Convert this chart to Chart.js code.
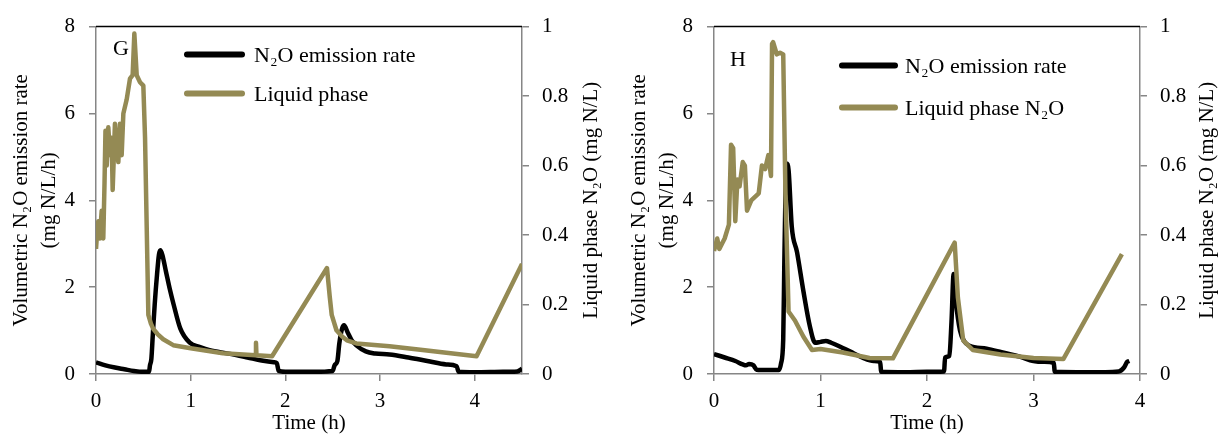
<!DOCTYPE html>
<html>
<head>
<meta charset="utf-8">
<script src="https://cdn.jsdelivr.net/npm/chart.js@4.4.1/dist/chart.umd.min.js"></script>
<style>
  body { margin: 0; background: #fff; width: 1219px; height: 434px; overflow: hidden; position: relative; }
  .panel { position: absolute; top: 0; width: 610px; height: 434px; }
  #boxG { left: 0; }
  #boxH { left: 618px; }
</style>
</head>
<body>
<div class="panel" id="boxG"><canvas id="chartG" width="610" height="434"></canvas></div>
<div class="panel" id="boxH"><canvas id="chartH" width="610" height="434"></canvas></div>
<script>
const FONT = '"Liberation Serif", "Times New Roman", serif';
const BLACK = '#000000';
const OLIVE = '#948A54';
const AXIS_GREY = '#868686';

// ---- panel G : N2O emission rate (mg N/L/h) ----
const gRateTime = [0, 0.1, 0.2, 0.3, 0.4, 0.5, 0.56, 0.57, 0.585, 0.6, 0.62, 0.645, 0.665, 0.68, 0.7, 0.74, 0.78, 0.82, 0.89, 0.99, 1.1, 1.2, 1.4, 1.6, 1.75, 1.88, 1.91, 1.93, 2.0, 2.3, 2.5, 2.52, 2.55, 2.57, 2.6, 2.62, 2.66, 2.7, 2.75, 2.85, 2.95, 3.1, 3.3, 3.5, 3.7, 3.81, 3.83, 4.0, 4.3, 4.45, 4.5];
const gRateVal  = [0.27, 0.2, 0.15, 0.11, 0.07, 0.05, 0.05, 0.2, 0.35, 0.9, 1.6, 2.3, 2.75, 2.85, 2.75, 2.35, 1.95, 1.6, 1.05, 0.72, 0.62, 0.55, 0.47, 0.38, 0.31, 0.27, 0.25, 0.07, 0.05, 0.05, 0.07, 0.2, 0.3, 0.7, 1.05, 1.12, 0.95, 0.78, 0.66, 0.52, 0.47, 0.45, 0.38, 0.3, 0.22, 0.18, 0.05, 0.04, 0.05, 0.06, 0.12];
// ---- panel G : liquid phase N2O (mg N/L) ----
const gLiqTime = [0, 0.015, 0.025, 0.04, 0.06, 0.077, 0.09, 0.1, 0.113, 0.13, 0.148, 0.165, 0.176, 0.19, 0.2, 0.22, 0.236, 0.253, 0.271, 0.289, 0.324, 0.359, 0.387, 0.405, 0.43, 0.465, 0.5, 0.518, 0.553, 0.58, 0.605, 0.65, 0.71, 0.816, 1.0, 1.34, 1.685, 1.69, 1.695, 1.86, 2.44, 2.47, 2.49, 2.54, 2.6, 2.65, 2.75, 3.1, 3.45, 4.02, 4.5];
const gLiqVal  = [0.36, 0.42, 0.44, 0.39, 0.47, 0.39, 0.55, 0.70, 0.6, 0.71, 0.63, 0.68, 0.53, 0.64, 0.72, 0.64, 0.61, 0.72, 0.63, 0.75, 0.79, 0.85, 0.86, 0.98, 0.86, 0.84, 0.83, 0.68, 0.17, 0.145, 0.13, 0.115, 0.10, 0.083, 0.074, 0.06, 0.054, 0.09, 0.054, 0.051, 0.305, 0.22, 0.17, 0.126, 0.108, 0.097, 0.088, 0.08, 0.069, 0.051, 0.317];

// ---- panel H : N2O emission rate ----
const hRateTime = [0, 0.1, 0.2, 0.27, 0.3, 0.33, 0.37, 0.4, 0.5, 0.61, 0.63, 0.65, 0.66, 0.67, 0.68, 0.7, 0.73, 0.78, 0.84, 0.9, 0.95, 1.0, 1.05, 1.1, 1.21, 1.31, 1.4, 1.5, 1.56, 1.57, 1.8, 2.0, 2.16, 2.17, 2.21, 2.23, 2.25, 2.27, 2.31, 2.35, 2.4, 2.56, 2.7, 2.87, 3.0, 3.1, 3.19, 3.2, 3.5, 3.8, 3.85, 3.88, 3.9];
const hRateVal  = [0.46, 0.38, 0.3, 0.22, 0.2, 0.23, 0.2, 0.1, 0.09, 0.09, 0.25, 0.8, 2.5, 4.0, 4.85, 4.7, 3.4, 2.8, 1.9, 1.1, 0.72, 0.74, 0.76, 0.72, 0.6, 0.48, 0.37, 0.3, 0.28, 0.05, 0.04, 0.05, 0.06, 0.38, 0.42, 1.2, 2.3, 1.7, 1.0, 0.75, 0.65, 0.58, 0.5, 0.4, 0.3, 0.28, 0.26, 0.05, 0.04, 0.06, 0.15, 0.28, 0.3];
// ---- panel H : liquid phase N2O ----
const hLiqTime = [0, 0.03, 0.05, 0.1, 0.14, 0.16, 0.18, 0.2, 0.22, 0.24, 0.27, 0.29, 0.31, 0.35, 0.42, 0.45, 0.48, 0.51, 0.535, 0.545, 0.555, 0.59, 0.62, 0.65, 0.67, 0.7, 0.76, 0.84, 0.92, 1.0, 1.21, 1.46, 1.68, 2.26, 2.29, 2.34, 2.43, 2.69, 3.0, 3.28, 3.83];
const hLiqVal  = [0.354, 0.39, 0.36, 0.39, 0.43, 0.66, 0.65, 0.44, 0.56, 0.54, 0.61, 0.6, 0.47, 0.5, 0.52, 0.6, 0.59, 0.63, 0.57, 0.95, 0.955, 0.92, 0.925, 0.92, 0.535, 0.18, 0.154, 0.107, 0.069, 0.072, 0.062, 0.046, 0.045, 0.378, 0.22, 0.097, 0.069, 0.056, 0.046, 0.043, 0.345];

const rateTicks = [0, 2, 4, 6, 8];
const liqTicks = [0, 0.2, 0.4, 0.6, 0.8, 1];
const timeTicks = [0, 1, 2, 3, 4];

const pts = (xs, ys) => xs.map((x, i) => ({ x, y: ys[i] }));
const setTicks = arr => scale => { scale.ticks = arr.map(v => ({ value: v })); };

// top frame line, right-axis title, panel letter and the legend inside the plot
const panelDecor = {
  id: 'panelDecor',
  afterDraw(chart, args, o) {
    const { ctx, chartArea: a } = chart;
    ctx.save();
    ctx.strokeStyle = BLACK;
    ctx.lineWidth = 1.5;
    ctx.beginPath();
    ctx.moveTo(a.left, a.top);
    ctx.lineTo(a.right, a.top);
    ctx.stroke();

    ctx.fillStyle = BLACK;
    ctx.font = '21px ' + FONT;
    ctx.textBaseline = 'middle';

    // right title reads bottom-to-top, like the left one
    ctx.save();
    ctx.translate(o.rightTitleX, (a.top + a.bottom) / 2);
    ctx.rotate(-Math.PI / 2);
    ctx.textAlign = 'center';
    ctx.fillText(o.rightTitle, 0, 0);
    ctx.restore();

    ctx.font = '22px ' + FONT;
    ctx.fillText(o.letter, a.left + o.letterDx, a.top + o.letterDy);

    chart.data.datasets.forEach((ds, i) => {
      const y = a.top + o.legDy + i * o.legGap;
      ctx.strokeStyle = ds.borderColor;
      ctx.lineWidth = 6;
      ctx.lineCap = 'round';
      ctx.beginPath();
      ctx.moveTo(a.left + o.legX0, y);
      ctx.lineTo(a.left + o.legX1, y);
      ctx.stroke();
      ctx.fillText(ds.label, a.left + o.legTextX, y + 2);
    });
    ctx.restore();
  }
};

function buildPanel(id, p) {
  const tickFont = { family: FONT, size: 21 };
  return new Chart(document.getElementById(id), {
    type: 'line',
    data: {
      datasets: [
        { label: p.rateLabel, data: pts(p.rateTime, p.rateVal), yAxisID: 'yRate',
          borderColor: BLACK, borderWidth: 4.5, pointRadius: 0, cubicInterpolationMode: 'monotone', order: 1 },
        { label: p.liqLabel, data: pts(p.liqTime, p.liqVal), yAxisID: 'yLiq',
          borderColor: OLIVE, borderWidth: 4.5, pointRadius: 0, tension: 0, borderJoinStyle: 'round', order: 0 }
      ]
    },
    options: {
      responsive: false,
      animation: false,
      events: [],
      layout: { padding: { top: 24, left: 0, right: 0, bottom: 0 } },
      plugins: { legend: { display: false }, tooltip: { enabled: false }, panelDecor: p.decor },
      scales: {
        x: {
          type: 'linear', position: 'bottom', min: 0, max: p.xMax,
          afterBuildTicks: setTicks(timeTicks),
          afterFit: s => { s.height = 60; },
          ticks: { color: BLACK, font: tickFont, padding: 8, maxRotation: 0 },
          grid: { drawOnChartArea: false, tickLength: 7, color: AXIS_GREY, lineWidth: 1.5 },
          border: { color: AXIS_GREY, width: 1.5 },
          title: { display: true, text: 'Time (h)', color: BLACK, font: { family: FONT, size: 21, lineHeight: 1 }, padding: 0 }
        },
        yRate: {
          type: 'linear', position: 'left', min: 0, max: 8,
          afterBuildTicks: setTicks(rateTicks),
          afterFit: s => { s.width = 96; },
          ticks: { color: BLACK, font: tickFont, padding: 14 },
          grid: { drawOnChartArea: false, tickLength: 7, color: AXIS_GREY, lineWidth: 1.5 },
          border: { color: AXIS_GREY, width: 1.5 },
          title: { display: true, text: ['Volumetric N\u2082O emission rate', '(mg N/L/h)'], color: BLACK,
                   font: { family: FONT, size: 21, lineHeight: 1.33 }, padding: { top: 8, bottom: 0 } }
        },
        yLiq: {
          type: 'linear', position: 'right', min: 0, max: 1,
          afterBuildTicks: setTicks(liqTicks),
          afterFit: s => { s.width = 88; },
          ticks: { color: BLACK, font: tickFont, padding: 13, callback: v => String(+v.toFixed(1)) },
          grid: { drawOnChartArea: false, tickLength: 7, color: AXIS_GREY, lineWidth: 1.5 },
          border: { color: AXIS_GREY, width: 1.5 },
          title: { display: false }
        }
      }
    },
    plugins: [panelDecor]
  });
}

buildPanel('chartG', {
  rateTime: gRateTime, rateVal: gRateVal, liqTime: gLiqTime, liqVal: gLiqVal,
  rateLabel: 'N\u2082O emission rate', liqLabel: 'Liquid phase', xMax: 4.5,
  decor: { letter: 'G', letterDx: 17, letterDy: 23, legDy: 28, legGap: 39, legX0: 91, legX1: 146, legTextX: 158,
           rightTitle: 'Liquid phase N\u2082O (mg N/L)', rightTitleX: 591 }
});

buildPanel('chartH', {
  rateTime: hRateTime, rateVal: hRateVal, liqTime: hLiqTime, liqVal: hLiqVal,
  rateLabel: 'N\u2082O emission rate', liqLabel: 'Liquid phase N\u2082O', xMax: 4,
  decor: { letter: 'H', letterDx: 16, letterDy: 34, legDy: 39, legGap: 42, legX0: 128, legX1: 181, legTextX: 191,
           rightTitle: 'Liquid phase N\u2082O (mg N/L)', rightTitleX: 589 }
});
</script>
</body>
</html>
